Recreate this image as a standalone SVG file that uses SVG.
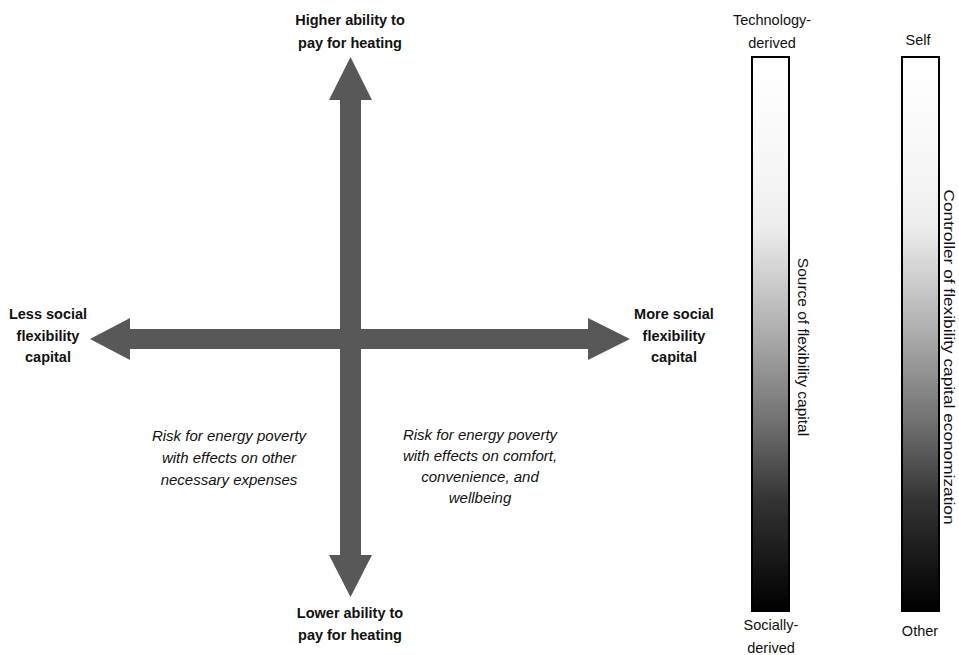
<svg xmlns="http://www.w3.org/2000/svg" width="959" height="655" viewBox="0 0 959 655">
<style>
text{font-family:"Liberation Sans",Arial,sans-serif;fill:#111;}
.b{font-weight:bold;font-size:14.5px;text-anchor:middle;}
.i{font-style:italic;font-size:15px;text-anchor:middle;}
.r{font-size:14.5px;text-anchor:middle;}
.rot{font-size:15.5px;text-anchor:middle;}
.arrow{fill:#585858;}
.bar{stroke:#000;stroke-width:2;}
</style>
<defs>
<linearGradient id="grad" x1="0" y1="0" x2="0" y2="1">
<stop offset="0" stop-color="#ffffff"/>
<stop offset="0.17" stop-color="#f8f8f8"/>
<stop offset="0.31" stop-color="#ececec"/>
<stop offset="0.49" stop-color="#b0b0b0"/>
<stop offset="0.66" stop-color="#707070"/>
<stop offset="0.8" stop-color="#333333"/>
<stop offset="1" stop-color="#000000"/>
</linearGradient>
</defs>
<rect width="959" height="655" fill="#fff"/>
<g id="connectors">
<polygon class="arrow" points="350.5,57 372,100 361,100 361,555 372,555 350.5,597 329,555 340,555 340,100 329,100"/>
<polygon class="arrow" points="90,339 130,318 130,329 588,329 588,318 630,339 588,360 588,349 130,349 130,360"/>
</g>
<g id="top-label">
<text class="b" x="350" y="25">Higher ability to</text>
<text class="b" x="350" y="48">pay for heating</text>
</g>
<g id="bottom-label">
<text class="b" x="350" y="618">Lower ability to</text>
<text class="b" x="350" y="640">pay for heating</text>
</g>
<g id="left-label">
<text class="b" x="48" y="319">Less  social</text>
<text class="b" x="48" y="341">flexibility</text>
<text class="b" x="48" y="362">capital</text>
</g>
<g id="right-label">
<text class="b" x="674" y="319">More  social</text>
<text class="b" x="674" y="341">flexibility</text>
<text class="b" x="674" y="362">capital</text>
</g>
<g id="left-quadrant">
<text class="i" x="229" y="441">Risk for energy poverty</text>
<text class="i" x="229" y="463">with effects on other</text>
<text class="i" x="229" y="485">necessary expenses</text>
</g>
<g id="right-quadrant">
<text class="i" x="480" y="440">Risk for energy poverty</text>
<text class="i" x="480" y="461">with effects on comfort,</text>
<text class="i" x="480" y="482">convenience, and</text>
<text class="i" x="480" y="503">wellbeing</text>
</g>
<g id="source-scale">
<rect class="bar" x="752" y="57" width="37" height="554" fill="url(#grad)"/>
<text class="r" x="772" y="25">Technology-</text>
<text class="r" x="772" y="48">derived</text>
<text class="r" x="771" y="630">Socially-</text>
<text class="r" x="771" y="653">derived</text>
<text class="rot" transform="translate(798,347) rotate(90)" x="0" y="0">Source of flexibility capital</text>
</g>
<g id="controller-scale">
<rect class="bar" x="902" y="57" width="37" height="554" fill="url(#grad)"/>
<text class="r" x="918" y="45">Self</text>
<text class="r" x="920" y="636">Other</text>
<text class="rot" transform="translate(944,357) rotate(90)" x="0" y="0" font-size="16" textLength="335" lengthAdjust="spacingAndGlyphs">Controller of flexibility capital economization</text>
</g>
</svg>
